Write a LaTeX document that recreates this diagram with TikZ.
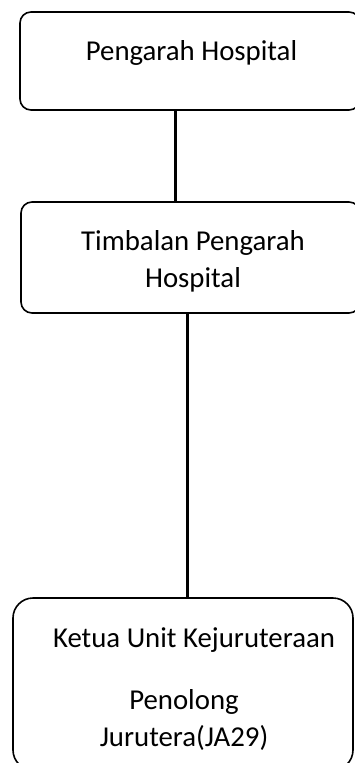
\documentclass[tikz,border=0pt]{standalone}
\usepackage{fontspec}
\setmainfont{Carlito}
\begin{document}
\begin{tikzpicture}[x=1pt,y=-1pt,
box/.style={draw,line width=1.6pt,rounded corners=11pt,inner sep=0pt},
txt/.style={inner sep=0pt,align=center,font=\fontsize{28.8}{37}\selectfont},
link/.style={line width=3pt}
]
\useasboundingbox (0,0) rectangle (355,763);

\node[box,minimum width=340pt,minimum height=98pt] (dir) at (190,61) {};
\node[box,minimum width=339pt,minimum height=111pt] (dep) at (190.5,257.5) {};
\node[box,rounded corners=20pt,minimum width=340pt,minimum height=172pt] (eng) at (183,684) {};

\node[txt] (dirtxt) at (191.5,53) {Pengarah Hospital};
\node[txt] (deptxt) at (193,261.5) {Timbalan Pengarah\\Hospital};
\node[txt] (engtxt) at (194,640) {Ketua Unit Kejuruteraan};
\node[txt] (asttxt) at (184,720) {Penolong\\Jurutera(JA29)};

\draw[link] (dir.south -| 175,0) -- (dep.north -| 175,0);
\draw[link] (dep.south -| 187,0) -- (eng.north -| 187,0);
\end{tikzpicture}
\end{document}
